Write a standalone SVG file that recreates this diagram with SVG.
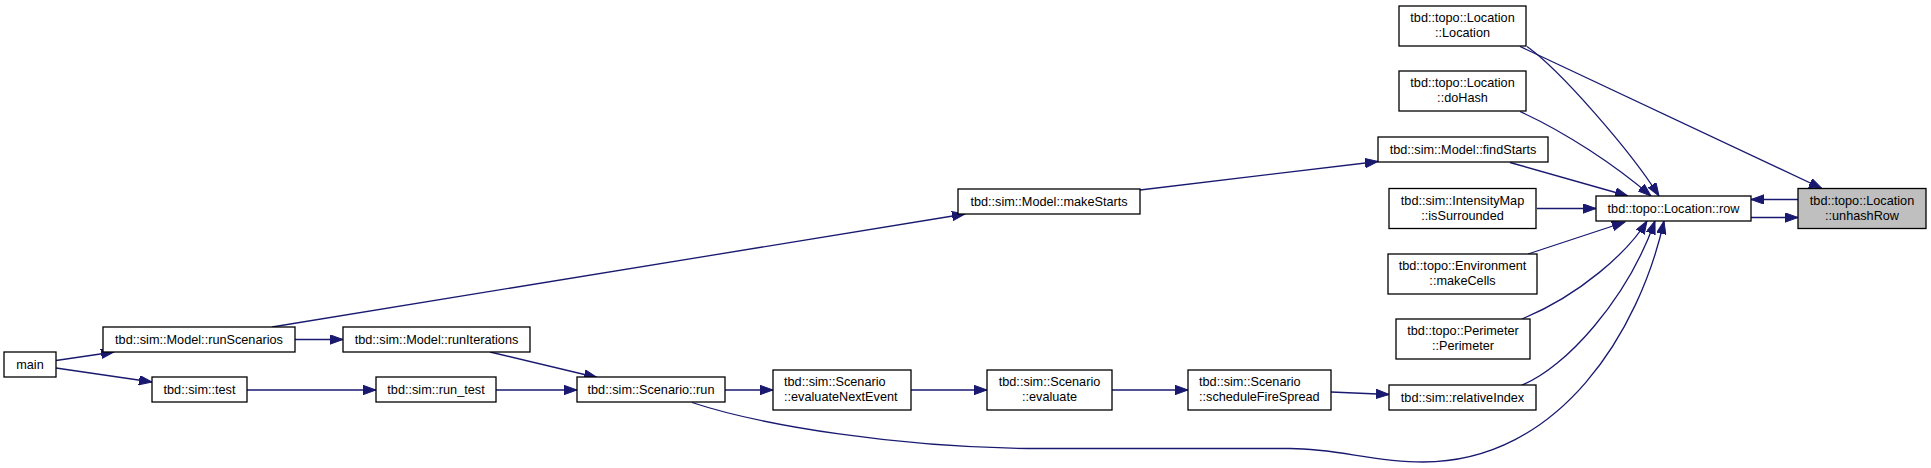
<svg xmlns="http://www.w3.org/2000/svg" width="1931" height="468" viewBox="0 0 1931 468">
<style>
.n rect{fill:#ffffff;stroke:#000000;stroke-width:1.3}
.n.cur rect{fill:#bfbfbf}
.n text{font-family:"Liberation Sans",Arial,Helvetica,sans-serif;font-size:12.7px;fill:#000000;text-anchor:middle}
.n text.l{text-anchor:start}
#edges path{fill:none;stroke:#191970;stroke-width:1.3;marker-end:url(#arr)}
</style>
<defs>
<marker id="arr" markerUnits="userSpaceOnUse" markerWidth="14" markerHeight="10" refX="13" refY="4.7" orient="auto">
<path d="M0,0 L13,4.7 L0,9.4 Z" fill="#191970" stroke="#191970" stroke-width="1"/>
</marker>
</defs>
<rect width="1931" height="468" fill="#ffffff"/>
<g id="edges">
<path d="M56,360.5 L114,352"/>
<path d="M56,368 L152,382"/>
<path d="M295,339.5 L343,339.5"/>
<path d="M272,327 L965,214"/>
<path d="M1140,190 L1378,161.5"/>
<path d="M1510,162.5 L1628,196"/>
<path d="M490,352 L597,377.5"/>
<path d="M247,390 L376,390"/>
<path d="M496,390 L577,390"/>
<path d="M725,390 L773,390"/>
<path d="M911,390 L987,390"/>
<path d="M1112,390 L1188,390"/>
<path d="M1331,392 L1389,394.5"/>
<path d="M1522,385 C1565,368 1627,300 1655,221"/>
<path d="M692,402.5 C760,425 900,448.5 1040,448.5 L1290,448.5 C1340,448.5 1370,462 1423,462 C1560,462 1640,330 1664,221"/>
<path d="M1528,254 L1625,222"/>
<path d="M1522,319 C1580,295 1628,252 1647,221"/>
<path d="M1537,208.5 L1596,208.5"/>
<path d="M1520,111.5 C1565,132 1615,165 1651,196"/>
<path d="M1527,46.5 C1560,70 1630,150 1659,196"/>
<path d="M1520,46.5 L1822,188.5"/>
<path d="M1751,217.5 L1798,217.5"/>
<path d="M1798,199.5 L1751,199.5"/>
</g>
<g id="main" class="n"><rect x="4" y="352" width="52" height="25"/><text x="30" y="369">main</text></g>
<g id="runScenarios" class="n"><rect x="103" y="327" width="192" height="25"/><text x="199" y="344">tbd::sim::Model::runScenarios</text></g>
<g id="runIterations" class="n"><rect x="343" y="327" width="187" height="25"/><text x="436.5" y="344">tbd::sim::Model::runIterations</text></g>
<g id="test" class="n"><rect x="152" y="377" width="95" height="25"/><text x="199.5" y="394">tbd::sim::test</text></g>
<g id="run_test" class="n"><rect x="376" y="377" width="120" height="25"/><text x="436" y="394">tbd::sim::run_test</text></g>
<g id="scenario_run" class="n"><rect x="577" y="377" width="148" height="25"/><text x="651" y="394">tbd::sim::Scenario::run</text></g>
<g id="evaluateNextEvent" class="n"><rect x="773" y="370" width="138" height="40"/><text class="l" x="784" y="386">tbd::sim::Scenario</text><text class="l" x="784" y="401">::evaluateNextEvent</text></g>
<g id="evaluate" class="n"><rect x="987" y="370" width="125" height="40"/><text x="1049.5" y="386">tbd::sim::Scenario</text><text x="1049.5" y="401">::evaluate</text></g>
<g id="scheduleFireSpread" class="n"><rect x="1188" y="370" width="143" height="40"/><text class="l" x="1199" y="386">tbd::sim::Scenario</text><text class="l" x="1199" y="401">::scheduleFireSpread</text></g>
<g id="relativeIndex" class="n"><rect x="1389" y="385" width="147" height="25"/><text x="1462.5" y="402">tbd::sim::relativeIndex</text></g>
<g id="makeStarts" class="n"><rect x="958" y="189" width="182" height="25"/><text x="1049" y="206">tbd::sim::Model::makeStarts</text></g>
<g id="findStarts" class="n"><rect x="1378" y="137" width="170" height="25"/><text x="1463" y="154">tbd::sim::Model::findStarts</text></g>
<g id="location_ctor" class="n"><rect x="1399" y="6" width="127" height="40"/><text x="1462.5" y="22">tbd::topo::Location</text><text x="1462.5" y="37">::Location</text></g>
<g id="doHash" class="n"><rect x="1399" y="71" width="127" height="40"/><text x="1462.5" y="87">tbd::topo::Location</text><text x="1462.5" y="102">::doHash</text></g>
<g id="isSurrounded" class="n"><rect x="1389" y="188.5" width="147" height="40"/><text x="1462.5" y="204.5">tbd::sim::IntensityMap</text><text x="1462.5" y="219.5">::isSurrounded</text></g>
<g id="makeCells" class="n"><rect x="1388" y="254" width="149" height="40"/><text x="1462.5" y="270">tbd::topo::Environment</text><text x="1462.5" y="285">::makeCells</text></g>
<g id="perimeter" class="n"><rect x="1396" y="319" width="134" height="40"/><text x="1463" y="335">tbd::topo::Perimeter</text><text x="1463" y="350">::Perimeter</text></g>
<g id="row" class="n"><rect x="1596" y="196" width="155" height="25"/><text x="1673.5" y="213">tbd::topo::Location::row</text></g>
<g id="unhashRow" class="n cur"><rect x="1798" y="188.5" width="128" height="40"/><text x="1862" y="204.5">tbd::topo::Location</text><text x="1862" y="219.5">::unhashRow</text></g>
</svg>
